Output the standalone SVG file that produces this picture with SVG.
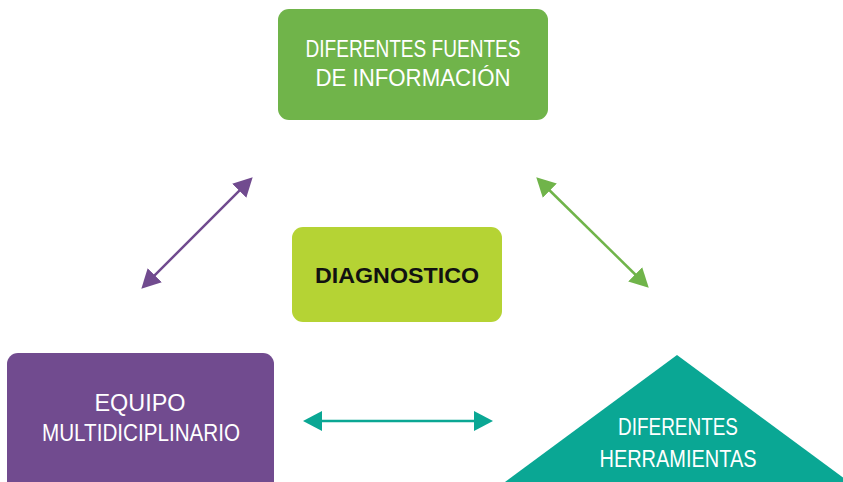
<svg xmlns="http://www.w3.org/2000/svg" width="843" height="482" viewBox="0 0 843 482">
<style>
.lbl{font-family:"Liberation Sans",Arial,sans-serif;font-size:23px;fill:#ffffff;text-anchor:middle}
.bold{font-family:"Liberation Sans",Arial,sans-serif;font-size:22px;font-weight:bold;fill:#111111;text-anchor:middle}
.conn{fill:none;stroke-width:2.5}
</style>
<defs>
<marker id="hPurple" markerUnits="userSpaceOnUse" markerWidth="20" markerHeight="22" refX="8" refY="10" orient="auto-start-reverse" viewBox="0 0 20 20"><path d="M0,0 L19,10 L0,20 z" fill="#714b8f"/></marker>
<marker id="hGreen" markerUnits="userSpaceOnUse" markerWidth="20" markerHeight="22" refX="8" refY="10" orient="auto-start-reverse" viewBox="0 0 20 20"><path d="M0,0 L19,10 L0,20 z" fill="#70b44a"/></marker>
<marker id="hTeal" markerUnits="userSpaceOnUse" markerWidth="20" markerHeight="22" refX="8" refY="10" orient="auto-start-reverse" viewBox="0 0 20 20"><path d="M0,0 L19,10 L0,20 z" fill="#0aa794"/></marker>
</defs>
<rect width="843" height="482" fill="#ffffff"/>
<g id="fuentes">
<rect x="278" y="9" width="270" height="111" rx="11" fill="#70b44a"/>
<text class="lbl" x="413" y="57" textLength="215" lengthAdjust="spacingAndGlyphs">DIFERENTES FUENTES</text>
<text class="lbl" x="413" y="86" textLength="195" lengthAdjust="spacingAndGlyphs">DE INFORMACIÓN</text>
</g>
<g id="diagnostico">
<rect x="292" y="227" width="210" height="95" rx="11" fill="#b5d334"/>
<text class="bold" x="397" y="283" textLength="164" lengthAdjust="spacingAndGlyphs">DIAGNOSTICO</text>
</g>
<g id="equipo">
<rect x="7" y="353" width="267" height="140" rx="11" fill="#714b8f"/>
<text class="lbl" x="140" y="411" textLength="91" lengthAdjust="spacingAndGlyphs">EQUIPO</text>
<text class="lbl" x="141" y="441" textLength="198" lengthAdjust="spacingAndGlyphs">MULTIDICIPLINARIO</text>
</g>
<g id="herramientas">
<polygon points="677,355 505,482 849,482" fill="#0aa794"/>
<text class="lbl" x="678" y="435" textLength="120" lengthAdjust="spacingAndGlyphs">DIFERENTES</text>
<text class="lbl" x="678" y="467" textLength="157" lengthAdjust="spacingAndGlyphs">HERRAMIENTAS</text>
</g>
<g id="connectors">
<path class="conn" d="M244.9,185.1 L149.1,280.9" stroke="#714b8f" marker-start="url(#hPurple)" marker-end="url(#hPurple)"/>
<path class="conn" d="M544.1,185 L640.9,280" stroke="#70b44a" marker-start="url(#hGreen)" marker-end="url(#hGreen)"/>
<path class="conn" d="M314,421 L482,421" stroke="#0aa794" marker-start="url(#hTeal)" marker-end="url(#hTeal)"/>
</g>
</svg>
